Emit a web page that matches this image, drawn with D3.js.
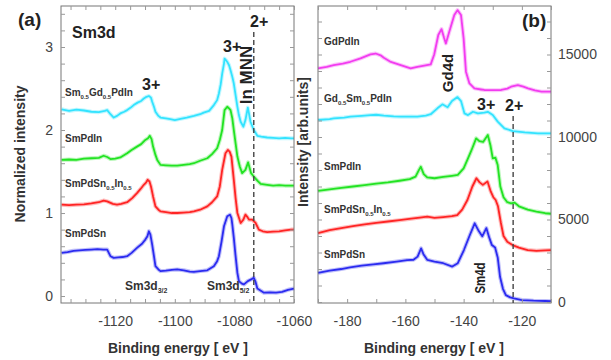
<!DOCTYPE html>
<html>
<head>
<meta charset="utf-8">
<script src="https://cdn.jsdelivr.net/npm/d3@7"></script>
<style>
  body { margin: 0; background: #fff; }
  svg { font-family: "Liberation Sans", Arial, sans-serif; }
</style>
</head>
<body>
<svg id="chart" width="611" height="360"></svg>
<script>
// ---- panel (a): Sm3d, normalized intensity, [binding energy eV, intensity]
const sm3dSmGdPdIn = [[-1138,2.25],[-1135.5,2.23],[-1133,2.245],[-1130.5,2.235],[-1128,2.22],[-1125.5,2.215],[-1123.5,2.23],[-1122.7,2.24],[-1121.6,2.19],[-1120.5,2.15],[-1119.4,2.17],[-1118.3,2.2],[-1117,2.22],[-1116,2.24],[-1114.8,2.27],[-1113.8,2.3],[-1112.5,2.33],[-1111.3,2.35],[-1110.4,2.38],[-1109.5,2.4],[-1108.7,2.41],[-1108,2.39],[-1107.6,2.34],[-1107,2.28],[-1106.5,2.22],[-1105.5,2.17],[-1104.8,2.15],[-1103,2.14],[-1101.5,2.13],[-1100,2.12],[-1098.1,2.135],[-1096,2.15],[-1093.6,2.17],[-1091.5,2.19],[-1090.3,2.21],[-1088.5,2.23],[-1086.9,2.3],[-1085.8,2.36],[-1085.2,2.44],[-1084.6,2.55],[-1084.1,2.68],[-1083.5,2.8],[-1083.3,2.86],[-1082.8,2.84],[-1082.4,2.82],[-1081.8,2.78],[-1081.3,2.72],[-1080.7,2.64],[-1080.2,2.56],[-1079.6,2.42],[-1079,2.28],[-1078.5,2.18],[-1077.9,2.1],[-1077,2.04],[-1076.3,2.12],[-1075.5,2.27],[-1075,2.18],[-1074.6,2.1],[-1073.5,2.0],[-1072.3,1.93],[-1071,1.92],[-1069,1.91],[-1067,1.905],[-1065,1.9],[-1063,1.905],[-1061,1.9],[-1060,1.9]];
const sm3dSmPdIn = [[-1138,1.64],[-1135.5,1.645],[-1133,1.64],[-1130.5,1.655],[-1128,1.66],[-1125.5,1.665],[-1123.9,1.69],[-1122.7,1.675],[-1121.6,1.65],[-1120,1.655],[-1118.3,1.67],[-1116,1.72],[-1114.5,1.76],[-1112.7,1.8],[-1111.3,1.83],[-1109.9,1.88],[-1109,1.9],[-1108.4,1.93],[-1107.8,1.89],[-1107.3,1.8],[-1106.5,1.7],[-1105.9,1.64],[-1104.8,1.58],[-1103,1.575],[-1101,1.57],[-1099.2,1.57],[-1097,1.58],[-1095,1.59],[-1093.6,1.6],[-1091.5,1.63],[-1089.1,1.66],[-1087.5,1.71],[-1085.8,1.78],[-1084.9,1.88],[-1084.1,2.0],[-1083.3,2.24],[-1082.4,2.28],[-1081.8,2.26],[-1081.3,2.24],[-1080.7,2.14],[-1080.2,2.0],[-1079.6,1.84],[-1079,1.68],[-1078.2,1.56],[-1077.4,1.48],[-1076.3,1.52],[-1075.4,1.61],[-1074.8,1.53],[-1074.4,1.48],[-1073.5,1.44],[-1072.3,1.39],[-1071.2,1.35],[-1069,1.34],[-1067,1.33],[-1065,1.335],[-1063,1.33],[-1061,1.33],[-1060,1.33]];
const sm3dSmPdSnIn = [[-1138,1.1],[-1135.5,1.095],[-1133,1.1],[-1130.5,1.105],[-1128,1.115],[-1125.5,1.13],[-1123.9,1.15],[-1122.7,1.14],[-1120.8,1.11],[-1119.4,1.1],[-1118,1.11],[-1116,1.13],[-1114.3,1.18],[-1112.7,1.24],[-1111.5,1.29],[-1110.4,1.34],[-1109.6,1.37],[-1109.1,1.4],[-1108.5,1.38],[-1108,1.32],[-1107.3,1.2],[-1106.5,1.08],[-1105.5,1.04],[-1104.8,1.02],[-1103,1.01],[-1101,1.0],[-1099.2,1.0],[-1097,1.005],[-1095,1.01],[-1093.6,1.02],[-1091.5,1.04],[-1089.1,1.08],[-1087.5,1.13],[-1085.8,1.2],[-1084.9,1.32],[-1084.1,1.52],[-1083,1.72],[-1082.2,1.76],[-1081.6,1.74],[-1081,1.68],[-1080.2,1.4],[-1079.6,1.18],[-1079,1.0],[-1077.9,0.88],[-1077,0.92],[-1076.3,0.98],[-1075.6,0.95],[-1075.1,0.92],[-1074,0.92],[-1072.9,0.88],[-1071.8,0.8],[-1070.5,0.78],[-1069,0.77],[-1067,0.775],[-1065,0.78],[-1063,0.79],[-1061,0.8],[-1060,0.8]];
const sm3dSmPdSn = [[-1138,0.52],[-1136,0.53],[-1134,0.545],[-1132,0.55],[-1130,0.555],[-1128,0.56],[-1126,0.565],[-1124,0.56],[-1122.7,0.56],[-1121.6,0.48],[-1120.5,0.46],[-1119,0.465],[-1117.5,0.47],[-1116,0.48],[-1114.5,0.52],[-1112.7,0.58],[-1111,0.63],[-1109.9,0.68],[-1109.2,0.72],[-1108.7,0.78],[-1108.2,0.74],[-1107.6,0.62],[-1107,0.48],[-1106.5,0.36],[-1105.5,0.32],[-1104.8,0.3],[-1103,0.305],[-1101,0.315],[-1099.2,0.32],[-1097,0.31],[-1095,0.295],[-1093.6,0.29],[-1091.5,0.3],[-1089.1,0.31],[-1086.9,0.36],[-1085.8,0.42],[-1085.2,0.48],[-1084.3,0.66],[-1083.5,0.84],[-1082.4,0.96],[-1081.5,0.98],[-1081,0.94],[-1080.7,0.86],[-1080.2,0.7],[-1079.6,0.48],[-1079,0.28],[-1078.5,0.18],[-1077.5,0.15],[-1076.8,0.14],[-1075.5,0.18],[-1074.4,0.2],[-1073.5,0.22],[-1072.9,0.17],[-1072.3,0.09],[-1071,0.06],[-1070.1,0.04],[-1068,0.045],[-1066,0.04],[-1064,0.05],[-1062,0.075],[-1060,0.09]];

// ---- panel (b): Sm4d / Gd4d, arbitrary units
const sm4dGdPdIn = [[-190,14160],[-187,14250],[-184.6,14360],[-181.5,14450],[-178.9,14560],[-175.4,14770],[-172,15010],[-170.2,15060],[-168.5,14950],[-167.4,14800],[-165,14550],[-161.6,14360],[-158.2,14160],[-155.9,14250],[-153.5,14330],[-151.3,14400],[-150.1,15000],[-148.7,16180],[-147.6,16540],[-146.7,16000],[-146.1,15670],[-144.9,16400],[-143.2,17390],[-142.1,17690],[-140.9,17390],[-140,15980],[-139.2,13960],[-138,13250],[-136.3,12950],[-134,12880],[-132.9,12850],[-130,12840],[-127.1,12850],[-125,12930],[-123.7,13050],[-121.4,13150],[-119.5,13050],[-117.9,12950],[-115.5,12820],[-113.3,12750],[-110,12750]];
const sm4dGdSmPdIn = [[-190,11030],[-186,11080],[-184.6,11130],[-181,11180],[-178.9,11230],[-175,11280],[-172,11330],[-170,11350],[-167.4,11300],[-164,11250],[-161.6,11230],[-158,11240],[-155.9,11230],[-153,11300],[-151.3,11380],[-149,11740],[-147.3,11980],[-145.5,11800],[-144,12180],[-142.1,12420],[-140.9,12180],[-139.7,11430],[-138.5,11330],[-136.8,11530],[-135.1,11430],[-132.9,11480],[-131.7,11530],[-130,11330],[-128.3,10930],[-126,10520],[-123.1,10360],[-119,10280],[-114.5,10220],[-110,10220]];
const sm4dSmPdIn = [[-190,6730],[-186,6830],[-182,6920],[-178,7000],[-174,7080],[-170,7170],[-166,7250],[-162,7350],[-158.5,7450],[-156.5,7600],[-155.5,7950],[-154.7,8200],[-153.7,7750],[-152.5,7550],[-150,7500],[-147,7580],[-144,7650],[-142,7700],[-140,8100],[-138.5,8700],[-137.3,9200],[-135.7,9920],[-134.6,9750],[-133.3,9700],[-131.7,10120],[-130.8,9500],[-130,8700],[-129.1,8750],[-128.3,8300],[-127.4,7000],[-126.3,6350],[-125,6050],[-123.7,5980],[-122.5,6020],[-121,5800],[-118,5600],[-115,5480],[-112,5380],[-110,5350]];
const sm4dSmPdSnIn = [[-190,4180],[-186,4350],[-182,4480],[-178,4600],[-174,4700],[-170,4800],[-166,4880],[-162,4960],[-158,5050],[-155,5120],[-152.5,5170],[-150,5100],[-147,5150],[-144,5200],[-142.2,5270],[-140.5,5600],[-138.7,6180],[-137,7000],[-135.6,7500],[-134.5,7250],[-133.4,7100],[-131.8,7300],[-130.7,6700],[-129.8,6350],[-129,6180],[-128.2,5800],[-127.2,4790],[-126.3,4000],[-125,3650],[-123.2,3450],[-121,3300],[-118,3150],[-115,3100],[-112,3130],[-110,3150]];
const sm4dSmPdSn = [[-190,1760],[-186,1900],[-182,2000],[-179,2100],[-175,2200],[-171,2280],[-167.5,2350],[-163,2450],[-159.4,2540],[-157.2,2560],[-155.8,2750],[-154.6,3250],[-153.8,2900],[-152.5,2560],[-150,2450],[-147,2350],[-143.9,2150],[-142,2350],[-139.9,3150],[-138,4000],[-136.2,4770],[-134.8,4300],[-133.6,3980],[-132.2,4480],[-131.2,3900],[-130.3,3450],[-129.2,3300],[-128.3,2700],[-127.5,1530],[-126.5,800],[-125.5,420],[-124,280],[-122.7,220],[-120,120],[-116,80],[-112,60],[-110,50]];

// tick labels
const ticksAx = [-1120, -1100, -1080, -1060];
const ticksAy = [0, 1, 2, 3];
const ticksBx = [-180, -160, -140, -120];
const ticksBy = [0, 5000, 10000, 15000];

// series names, alternating normal / subscript pieces
const namesA = [["Sm","0.5","Gd","0.5","PdIn"], ["SmPdIn"], ["SmPdSn","0.5","In","0.5"], ["SmPdSn"]];
const namesB = [["GdPdIn"], ["Gd","0.5","Sm","0.5","PdIn"], ["SmPdIn"], ["SmPdSn","0.5","In","0.5"], ["SmPdSn"]];

const colors = { cyan: "#33e3ff", green: "#22e322", red: "#ff2424", blue: "#2b2bf0", magenta: "#f23cf0" };
const seriesA = [
  { data: sm3dSmGdPdIn, color: colors.cyan },
  { data: sm3dSmPdIn, color: colors.green },
  { data: sm3dSmPdSnIn, color: colors.red },
  { data: sm3dSmPdSn, color: colors.blue }
];
const seriesB = [
  { data: sm4dGdPdIn, color: colors.magenta },
  { data: sm4dGdSmPdIn, color: colors.cyan },
  { data: sm4dSmPdIn, color: colors.green },
  { data: sm4dSmPdSnIn, color: colors.red },
  { data: sm4dSmPdSn, color: colors.blue }
];

const svg = d3.select("#chart");
const plotTop = 6, plotBottom = 303;

const xA = d3.scaleLinear().domain([-1138.2, -1060]).range([61, 294]);
const yA = d3.scaleLinear().domain([-0.084, 3.494]).range([plotBottom, plotTop]);
const xB = d3.scaleLinear().domain([-190, -110]).range([318, 551]);
const yB = d3.scaleLinear().domain([-60, 17940]).range([plotBottom, plotTop]);

function richText(g, x, y, parts, size, subSize) {
  const t = g.append("text")
    .attr("x", x).attr("y", y)
    .attr("font-size", size).attr("font-weight", "bold").attr("fill", "#333");
  parts.forEach((p, i) => {
    const sub = i % 2 === 1;
    t.append("tspan").text(p)
      .attr("font-size", sub ? subSize : size)
      .attr("dy", sub ? 3 : (i > 0 ? -3 : 0));
  });
  return t;
}

function minorTicks(x, y, xStep, yStep) {
  const g = svg.append("g").attr("class", "minor");
  const [x0, x1] = x.range(), [y0, y1] = y.range();
  const xs = d3.range(Math.ceil(x.domain()[0] / xStep) * xStep, x.domain()[1] + 0.001, xStep);
  const ys = d3.range(Math.ceil(y.domain()[0] / yStep) * yStep, y.domain()[1], yStep);
  g.append("g").attr("transform", `translate(0,${y0})`)
    .call(d3.axisBottom(x).tickValues(xs).tickSize(-4).tickFormat(""));
  g.append("g").attr("transform", `translate(0,${y1})`)
    .call(d3.axisTop(x).tickValues(xs).tickSize(-4).tickFormat(""));
  g.append("g").attr("transform", `translate(${x0},0)`)
    .call(d3.axisLeft(y).tickValues(ys).tickSize(-4).tickFormat(""));
  g.append("g").attr("transform", `translate(${x1},0)`)
    .call(d3.axisRight(y).tickValues(ys).tickSize(-4).tickFormat(""));
  g.selectAll(".domain").remove();
  g.selectAll("line").attr("stroke", "#999");
}

function drawPanel(x, y, series) {
  const line = d3.line().x(d => x(d[0])).y(d => y(d[1]));
  const g = svg.append("g");
  series.forEach(s => {
    g.append("path").datum(s.data).attr("d", line)
      .attr("fill", "none").attr("stroke", s.color)
      .attr("stroke-width", 4).attr("stroke-opacity", 0.3).attr("stroke-linejoin", "round");
    g.append("path").datum(s.data).attr("d", line)
      .attr("fill", "none").attr("stroke", s.color)
      .attr("stroke-width", 1.8).attr("stroke-linejoin", "round");
  });
  svg.append("rect")
    .attr("x", x.range()[0]).attr("y", plotTop)
    .attr("width", x.range()[1] - x.range()[0]).attr("height", plotBottom - plotTop)
    .attr("fill", "none").attr("stroke", "#777").attr("stroke-width", 1);
}

drawPanel(xA, yA, seriesA);
drawPanel(xB, yB, seriesB);
minorTicks(xA, yA, 5, 0.2);
minorTicks(xB, yB, 10, 1000);

// tick labels
function styleTicks(g) {
  g.select(".domain").remove();
  g.selectAll("text").attr("font-size", 14).attr("fill", "#444")
    .attr("font-family", "'Liberation Sans', Arial, sans-serif");
}
svg.append("g").attr("transform", `translate(0,${plotBottom})`)
  .call(d3.axisBottom(xA).tickValues(ticksAx).tickSize(0).tickPadding(13).tickFormat(d => String(d)))
  .call(styleTicks);
svg.append("g").attr("transform", `translate(0,${plotBottom})`)
  .call(d3.axisBottom(xB).tickValues(ticksBx).tickSize(0).tickPadding(13).tickFormat(d => String(d)))
  .call(styleTicks);
svg.append("g").attr("transform", "translate(61,0)")
  .call(d3.axisLeft(yA).tickValues(ticksAy).tickSize(0).tickPadding(8).tickFormat(d => String(d)))
  .call(styleTicks);
svg.append("g").attr("transform", "translate(551,0)")
  .call(d3.axisRight(yB).tickValues(ticksBy).tickSize(0).tickPadding(7).tickFormat(d => String(d)))
  .call(styleTicks);

// axis titles
const titles = svg.append("g").attr("font-weight", "bold").attr("font-size", 14).attr("fill", "#333");
titles.append("text").attr("x", 178).attr("y", 353).attr("text-anchor", "middle").text("Binding energy [ eV ]");
titles.append("text").attr("x", 434).attr("y", 353).attr("text-anchor", "middle").text("Binding energy [ eV ]");
titles.append("text").attr("transform", "translate(25,154) rotate(-90)").attr("text-anchor", "middle").text("Normalized intensity");
titles.append("text").attr("transform", "translate(308,142) rotate(-90)").attr("text-anchor", "middle").text("Intensity [arb.units]");

// dashed 2+ markers
svg.append("line").attr("x1", xA(-1073.5)).attr("x2", xA(-1073.5)).attr("y1", 32).attr("y2", plotBottom)
  .attr("stroke", "#444").attr("stroke-width", 1.4).attr("stroke-dasharray", "5,3");
svg.append("line").attr("x1", xB(-123)).attr("x2", xB(-123)).attr("y1", 116).attr("y2", plotBottom)
  .attr("stroke", "#444").attr("stroke-width", 1.4).attr("stroke-dasharray", "5,3");

// annotations
const ann = svg.append("g").attr("font-weight", "bold").attr("fill", "#222");
ann.append("text").attr("x", 18).attr("y", 26).attr("font-size", 19).text("(a)");
ann.append("text").attr("x", 522).attr("y", 27).attr("font-size", 19).text("(b)");
ann.append("text").attr("x", 72).attr("y", 38).attr("font-size", 16).text("Sm3d");
ann.append("text").attr("x", 142).attr("y", 90).attr("font-size", 16).text("3+");
ann.append("text").attr("x", 223).attr("y", 52).attr("font-size", 16).text("3+");
ann.append("text").attr("x", 250).attr("y", 27).attr("font-size", 16).text("2+");
ann.append("text").attr("transform", "translate(252,75) rotate(-90)").attr("text-anchor", "middle").attr("font-size", 17).text("In MNN");
ann.append("text").attr("x", 477).attr("y", 110).attr("font-size", 16).text("3+");
ann.append("text").attr("x", 505).attr("y", 111).attr("font-size", 16).text("2+");
ann.append("text").attr("transform", "translate(453,73) rotate(-90)").attr("text-anchor", "middle").attr("font-size", 15).text("Gd4d");
ann.append("text").attr("transform", "translate(485,278) rotate(-90)").attr("text-anchor", "middle").attr("font-size", 14)
  .attr("textLength", 31).attr("lengthAdjust", "spacingAndGlyphs").text("Sm4d");

richText(svg, 125, 290, ["Sm3d", "3/2"], 12, 7);
richText(svg, 207, 290, ["Sm3d", "5/2"], 12, 7);

// series labels
const labelYA = [96, 142, 187, 237];
const labelYB = [45, 102, 170, 213, 258];
namesA.forEach((n, i) => richText(svg, 65, labelYA[i], n, 10, 6));
namesB.forEach((n, i) => richText(svg, 324, labelYB[i], n, 10, 6));
</script>
</body>
</html>
